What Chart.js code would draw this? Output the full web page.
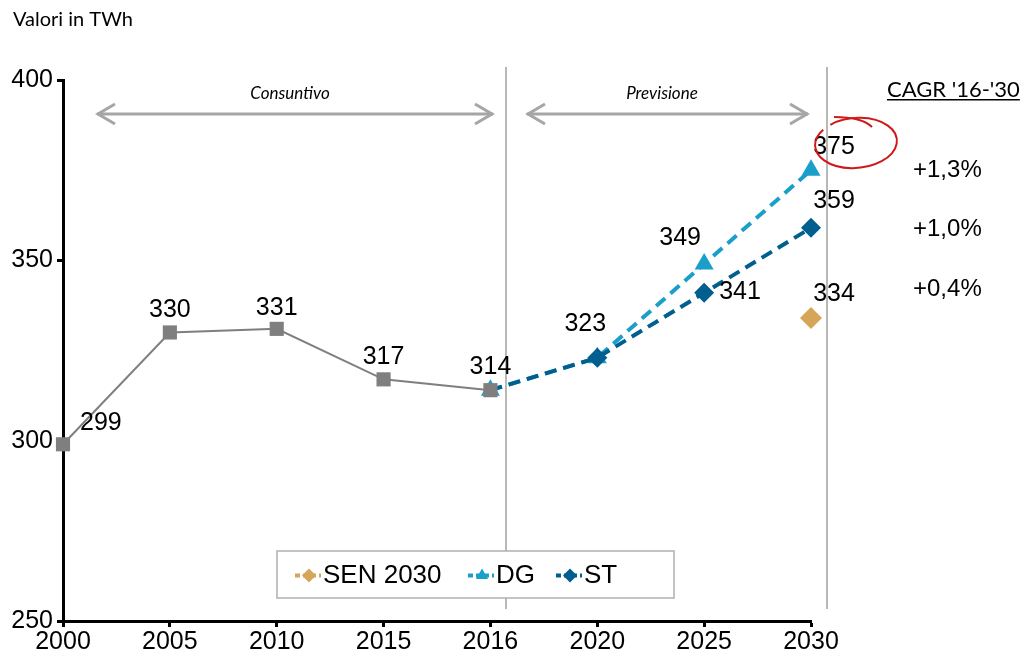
<!DOCTYPE html>
<html>
<head>
<meta charset="utf-8">
<script src="https://cdn.jsdelivr.net/npm/chart.js@4.4.1/dist/chart.umd.min.js"></script>
<style>
  html, body { margin: 0; padding: 0; background: #ffffff; }
  #wrap { width: 1023px; height: 656px; position: relative; }
</style>
</head>
<body>
<div id="wrap"><canvas id="c" width="1023" height="656"></canvas></div>
<script>
// Electricity demand, TWh
const years = ['2000', '2005', '2010', '2015', '2016', '2020', '2025', '2030'];
const consuntivo = [299, 330, 331, 317, 314, null, null, null];
const scenarioST = [null, null, null, null, 314, 323, 341, 359];
const scenarioDG = [null, null, null, null, 314, 323, 349, 375];
const sen2030 = [null, null, null, null, null, null, null, 334];
const cagrLabels = ['+1,3%', '+1,0%', '+0,4%'];
const yMin = 250, yMax = 400, yStep = 50;

const NUM_FONT = '"Liberation Sans", Arial, sans-serif';
const TXT_FONT = 'Lato, "Open Sans", sans-serif';

const C_HIST = '#7f7f7f';
const C_DG = '#1a9fca';
const C_ST = '#005f8f';
const C_SEN = '#d6a557';

const overlay = {
  id: 'overlay',
  beforeDatasetsDraw(chart) {
    const { ctx, scales: { x } } = chart;
    ctx.save();
    // period separators
    ctx.strokeStyle = '#b8b8b8';
    ctx.lineWidth = 2;
    [4.15, 7.15].forEach(i => {
      const px = Math.round(x.getPixelForValue(i));
      ctx.beginPath(); ctx.moveTo(px, 67); ctx.lineTo(px, 609); ctx.stroke();
    });
    // period arrows
    ctx.strokeStyle = '#a6a6a6';
    ctx.lineWidth = 3;
    ctx.lineCap = 'butt';
    const arrow = (x1, x2, y) => {
      ctx.beginPath(); ctx.moveTo(x1, y); ctx.lineTo(x2, y); ctx.stroke();
      ctx.beginPath();
      ctx.moveTo(x1 + 18, y - 10); ctx.lineTo(x1 + 1, y); ctx.lineTo(x1 + 18, y + 10);
      ctx.moveTo(x2 - 18, y - 10); ctx.lineTo(x2 - 1, y); ctx.lineTo(x2 - 18, y + 10);
      ctx.stroke();
    };
    arrow(97, 493, 114);
    arrow(527, 808, 114);
    ctx.fillStyle = '#000';
    ctx.font = 'italic 17px ' + TXT_FONT;
    ctx.textAlign = 'center';
    ctx.textBaseline = 'alphabetic';
    ctx.fillText('Consuntivo', 290, 99);
    ctx.fillText('Previsione', 662, 99);
    ctx.restore();
  },
  afterDatasetsDraw(chart) {
    // value labels, placed per point by each dataset's valueLabels [dx, dy, align]
    const { ctx } = chart;
    ctx.save();
    ctx.fillStyle = '#000';
    ctx.font = '25px ' + NUM_FONT;
    ctx.textBaseline = 'middle';
    chart.data.datasets.forEach((ds, di) => {
      const meta = chart.getDatasetMeta(di);
      ds.data.forEach((v, i) => {
        const place = ds.valueLabels && ds.valueLabels[i];
        if (v == null || !place) return;
        const pt = meta.data[i];
        ctx.textAlign = place[2];
        ctx.fillText(String(v), pt.x + place[0], pt.y + place[1]);
      });
    });
    ctx.restore();
  },
  afterDraw(chart) {
    const { ctx } = chart;
    ctx.save();
    // unit title
    ctx.fillStyle = '#000';
    ctx.font = '20px ' + TXT_FONT;
    ctx.textAlign = 'left';
    ctx.textBaseline = 'alphabetic';
    ctx.fillText('Valori in TWh', 13, 26);

    // CAGR column
    ctx.font = '22px ' + TXT_FONT;
    const head = "CAGR '16-'30";
    ctx.fillText(head, 887, 97);
    const hw = ctx.measureText(head).width;
    ctx.fillRect(887, 99, hw, 1.5);
    ctx.font = '24px ' + NUM_FONT;
    ctx.textBaseline = 'middle';
    const cagrY = [170, 229, 289];
    cagrLabels.forEach((t, i) => ctx.fillText(t, 913, cagrY[i]));

    // highlight ring around the 2030 DG value
    ctx.strokeStyle = '#d01818';
    ctx.lineWidth = 2;
    ctx.beginPath();
    ctx.ellipse(856, 143, 41, 25, -0.08, -2.2, -2.2 + Math.PI * 2 - 0.25);
    ctx.stroke();
    ctx.beginPath();
    ctx.moveTo(834, 117);
    ctx.quadraticCurveTo(862, 117, 872, 127);
    ctx.stroke();

    // legend
    const bx = 277, by = 551, bw = 397, bh = 47;
    ctx.fillStyle = '#fff';
    ctx.fillRect(bx, by, bw, bh);
    ctx.strokeStyle = '#b0b0b0';
    ctx.lineWidth = 1.5;
    ctx.strokeRect(bx, by, bw, bh);
    const order = [3, 2, 1];
    const startX = [295, 468, 556];
    const cy = by + bh / 2 + 1;
    ctx.textAlign = 'left';
    ctx.textBaseline = 'middle';
    order.forEach((di, k) => {
      const ds = chart.data.datasets[di];
      const lx = startX[k];
      ctx.save();
      ctx.strokeStyle = ds.borderColor;
      ctx.lineWidth = 4;
      ctx.setLineDash([5, 3]);
      ctx.beginPath(); ctx.moveTo(lx, cy); ctx.lineTo(lx + 26, cy); ctx.stroke();
      ctx.setLineDash([]);
      ctx.fillStyle = ds.borderColor;
      ctx.strokeStyle = ds.borderColor;
      ctx.lineWidth = 0;
      Chart.helpers.drawPoint(ctx, {
        pointStyle: ds.pointStyle, radius: 7, rotation: 0, borderWidth: 0
      }, lx + 14, cy);
      ctx.restore();
      ctx.fillStyle = '#000';
      ctx.font = '26px ' + NUM_FONT;
      ctx.fillText(ds.label, lx + 28, cy);
    });
    ctx.restore();
  }
};

const chart = new Chart(document.getElementById('c'), {
  type: 'line',
  data: {
    labels: years,
    datasets: [
      {
        label: 'Consuntivo',
        data: consuntivo,
        borderColor: C_HIST,
        backgroundColor: C_HIST,
        pointBackgroundColor: C_HIST,
        pointBorderWidth: 0,
        borderWidth: 2,
        pointStyle: 'rect',
        pointRadius: 10,
        valueLabels: [[17, -21, 'left'], [0, -22, 'center'], [0, -21, 'center'], [0, -22, 'center'], [0, -23, 'center'], null, null, null]
      },
      {
        label: 'ST',
        data: scenarioST,
        borderColor: C_ST,
        backgroundColor: C_ST,
        pointBackgroundColor: C_ST,
        pointBorderWidth: 0,
        borderWidth: 4,
        borderDash: [12, 7],
        pointStyle: 'rectRot',
        pointRadius: [0, 0, 0, 0, 0, 10, 10, 10],
        valueLabels: [null, null, null, null, null, null, [15, -1, 'left'], [23, -27, 'center']]
      },
      {
        label: 'DG',
        data: scenarioDG,
        borderColor: C_DG,
        backgroundColor: C_DG,
        pointBackgroundColor: C_DG,
        pointBorderWidth: 0,
        borderWidth: 4,
        borderDash: [12, 7],
        pointStyle: 'triangle',
        pointRadius: 11,
        valueLabels: [null, null, null, null, null, [-12, -34, 'center'], [-24, -26, 'center'], [23, -23, 'center']]
      },
      {
        label: 'SEN 2030',
        data: sen2030,
        borderColor: C_SEN,
        backgroundColor: C_SEN,
        pointBackgroundColor: C_SEN,
        pointBorderWidth: 0,
        borderWidth: 4,
        borderDash: [5, 3],
        pointStyle: 'rectRot',
        pointRadius: 11,
        valueLabels: [null, null, null, null, null, null, null, [23, -24, 'center']]
      }
    ]
  },
  options: {
    responsive: false,
    devicePixelRatio: 1,
    animation: false,
    spanGaps: false,
    layout: { padding: { left: 0, right: 212, top: 80, bottom: 0 } },
    plugins: {
      legend: { display: false },
      tooltip: { enabled: false }
    },
    scales: {
      x: {
        type: 'category',
        offset: false,
        border: { color: '#000', width: 3 },
        grid: { drawOnChartArea: false, drawTicks: true, tickLength: 6, tickColor: '#000', tickWidth: 3 },
        ticks: { color: '#000', font: { family: NUM_FONT, size: 25 }, padding: 0, maxRotation: 0, autoSkip: false },
        afterFit(scale) { scale.height = 35; }
      },
      y: {
        min: yMin,
        max: yMax,
        border: { color: '#000', width: 3 },
        grid: { drawOnChartArea: false, drawTicks: true, tickLength: 6, tickColor: '#000', tickWidth: 3 },
        ticks: { stepSize: yStep, color: '#000', font: { family: NUM_FONT, size: 25 }, padding: 4 },
        afterFit(scale) { scale.width = 63; }
      }
    }
  },
  plugins: [overlay]
});
</script>
</body>
</html>
